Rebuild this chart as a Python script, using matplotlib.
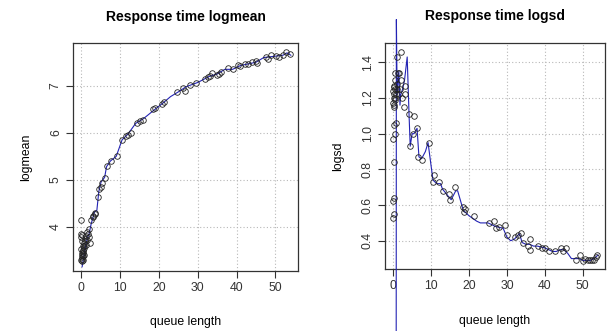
import matplotlib
matplotlib.use("Agg")
import matplotlib.pyplot as plt

# queue length vs response time logmean (points)
lm_x = [0.0, 0.0, 0.0, 0.0, 0.0, 0.1, 0.1, 0.1, 0.1, 0.2, 0.2, 0.2, 0.3, 0.3, 0.3,
        0.4, 0.5, 0.5, 0.6, 0.7, 0.7, 0.8, 0.9, 1.0, 1.1, 1.2, 1.4, 1.5, 1.7, 1.9,
        2.0, 2.2, 2.6, 2.9, 3.1, 3.4, 3.6,
        4.2, 4.5, 5.0, 5.2, 6.2, 6.5, 7.7, 9.1, 10.5, 11.5, 12.0, 12.8, 14.3, 15.2,
        16.0, 18.6, 18.9, 20.8, 21.3, 24.6, 26.3, 26.8, 28.0, 29.5, 31.8, 32.6, 33.2,
        33.6, 35.0, 35.6, 36.1, 37.8, 39.2, 40.4, 40.8, 42.2, 43.0, 44.1, 44.9, 45.2,
        47.5, 48.2, 49.0, 50.2, 51.0, 52.0, 52.8, 53.7]
lm_y = [4.14, 3.85, 3.78, 3.52, 3.30, 3.82, 3.45, 3.35, 3.28, 3.70, 3.40, 3.32, 3.60, 3.48, 3.38,
        3.50, 3.45, 3.30, 3.55, 3.40, 3.60, 3.65, 3.70, 3.75, 3.62, 3.80, 3.72, 3.90, 3.85, 3.78,
        3.95, 3.65, 4.15, 4.20, 4.22, 4.28, 4.30,
        4.64, 4.80, 4.85, 4.94, 5.03, 5.30, 5.40, 5.51, 5.84, 5.93, 5.96, 6.00, 6.20, 6.25,
        6.28, 6.50, 6.52, 6.62, 6.65, 6.87, 6.95, 6.88, 7.02, 7.05, 7.15, 7.18, 7.20,
        7.28, 7.22, 7.25, 7.30, 7.37, 7.35, 7.45, 7.42, 7.47, 7.47, 7.50, 7.52, 7.48,
        7.62, 7.58, 7.65, 7.63, 7.62, 7.65, 7.72, 7.67]

# smoothed logmean curve
lm_fit_x = [0.2, 1.0, 1.5, 2.0, 2.5, 3.4, 4.0, 4.5, 5.1, 6.0, 6.5, 7.5, 9.0, 10.5, 12.0,
            14.0, 16.0, 19.0, 21.0, 23.0, 25.0, 27.0, 30.0, 33.0, 35.0, 37.0, 39.0,
            41.0, 45.0, 47.0, 50.0, 52.0, 53.0, 54.0]
lm_fit_y = [3.15, 3.55, 3.75, 3.85, 4.05, 4.32, 4.35, 4.75, 4.96, 5.05, 5.28, 5.40, 5.50,
            5.85, 5.97, 6.20, 6.30, 6.50, 6.63, 6.77, 6.87, 6.98, 7.07, 7.20, 7.25, 7.35,
            7.35, 7.43, 7.50, 7.60, 7.63, 7.65, 7.70, 7.65]

# queue length vs response time logsd (points)
ls_x = [0.0, 0.0, 0.0, 0.0, 0.0, 0.1, 0.1, 0.1, 0.1, 0.2, 0.2, 0.2, 0.3, 0.3, 0.3,
        0.4, 0.4, 0.5, 0.5, 0.6, 0.6, 0.7, 0.8, 0.9, 1.0, 1.1, 1.3, 1.5, 1.6, 1.8,
        2.0, 2.2, 2.4, 2.8, 3.0, 3.2,
        4.1, 4.4, 5.3, 5.5, 6.3, 6.6, 7.6, 9.4, 10.4, 10.7, 12.0, 13.2, 14.6, 15.1,
        16.4, 18.6, 18.9, 18.5, 21.2, 25.2, 26.5, 27.2, 28.0, 29.6, 29.9, 32.1, 33.0,
        33.8, 34.3, 35.5, 36.0, 36.2, 38.3, 39.2, 40.0, 41.1, 42.7, 44.2, 44.9, 45.6,
        48.1, 49.3, 50.0, 50.6, 51.3, 51.9, 52.4, 53.0, 53.5, 53.8]
ls_y = [0.53, 0.62, 0.97, 1.17, 1.24, 0.55, 1.05, 1.20, 1.26, 0.64, 1.15, 1.22, 0.84, 1.16, 1.27,
        1.19, 1.25, 1.00, 1.30, 1.20, 1.34, 1.22, 1.06, 1.43, 1.25, 1.28, 1.34, 1.34, 1.22, 1.25,
        1.30, 1.46, 1.20, 1.15, 1.27, 1.22,
        1.11, 0.93, 1.00, 1.10, 1.03, 0.87, 0.85, 0.95, 0.73, 0.77, 0.73, 0.68, 0.66, 0.63,
        0.70, 0.56, 0.58, 0.59, 0.54, 0.50, 0.51, 0.47, 0.475, 0.49, 0.43, 0.42, 0.43,
        0.445, 0.385, 0.37, 0.41, 0.35, 0.37, 0.36, 0.36, 0.34, 0.34, 0.36, 0.34, 0.36,
        0.29, 0.32, 0.285, 0.30, 0.29, 0.29, 0.29, 0.29, 0.31, 0.32]

# smoothed logsd curve (spikes out of the box near zero)
ls_fit_x = [0.78, 0.85, 1.05, 1.5, 1.8, 2.0, 2.5, 3.0, 3.7, 4.2, 4.5, 5.0, 5.5, 6.3, 6.8,
            7.5, 8.5, 9.2, 10.0, 10.5, 11.5, 12.5, 13.0, 14.5, 15.3, 16.5, 17.0, 18.5,
            20.0, 22.0, 23.0, 25.0, 27.0, 29.0, 30.0, 31.0, 32.0, 33.3, 34.0, 35.0, 36.0,
            37.0, 38.0, 40.0, 42.0, 43.0, 44.0, 45.0, 46.0, 47.0, 49.0, 50.0, 52.0, 53.0, 54.0]
ls_fit_y = [-1.0, 1.64, 1.22, 1.35, 1.16, 1.22, 1.25, 1.30, 1.43, 1.10, 0.93, 1.00, 1.00,
            1.03, 0.87, 0.86, 0.90, 0.95, 0.82, 0.74, 0.72, 0.72, 0.69, 0.65, 0.63, 0.68,
            0.68, 0.57, 0.54, 0.51, 0.50, 0.50, 0.48, 0.47, 0.42, 0.40, 0.41, 0.44, 0.39,
            0.38, 0.38, 0.37, 0.37, 0.36, 0.34, 0.34, 0.35, 0.35, 0.33, 0.30, 0.30, 0.29,
            0.29, 0.30, 0.32]

xticks = [0, 10, 20, 30, 40, 50]
lm_yticks = [4, 5, 6, 7]
ls_yticks = [0.4, 0.6, 0.8, 1.0, 1.2, 1.4]
ls_yticklabels = ["0.4", "0.6", "0.8", "1.0", "1.2", "1.4"]

plt.rcParams["font.family"] = ["Liberation Sans", "DejaVu Sans"]

W, H = 614, 331
fig = plt.figure(figsize=(W / 100, H / 100), dpi=100)

def panel(rect, px, py, fx, fy, clip, yticks, ylabels, ylim, title, ylabel):
    ax = fig.add_axes(rect)
    ax.grid(True, color="#b8b8b8", linestyle=(0, (1, 2)), linewidth=0.8)
    ax.set_axisbelow(True)
    ax.plot(fx, fy, color="#2323b4", linewidth=0.8, clip_on=clip, zorder=3)
    ax.plot(px, py, linestyle="none", marker="o", markersize=4, markerfacecolor="none",
            markeredgecolor="#222222", markeredgewidth=0.6, zorder=4)
    ax.set_xlim(-2.15, 55.85)
    ax.set_ylim(*ylim)
    ax.set_xticks(xticks)
    ax.set_yticks(yticks)
    ax.set_yticklabels(ylabels, rotation=90, va="center")
    ax.tick_params(direction="out", length=5, width=0.8, colors="#333333",
                   labelsize=8.8, pad=3)
    for s in ax.spines.values():
        s.set_color("#333333")
        s.set_linewidth(0.9)
    ax.set_title(title, fontsize=10, fontweight="bold", pad=16)
    ax.set_xlabel("queue length", fontsize=8.8, labelpad=16)
    ax.set_ylabel(ylabel, fontsize=8.8, labelpad=13)
    return ax

panel([73 / W, (H - 271) / H, 225 / W, 228 / H], lm_x, lm_y, lm_fit_x, lm_fit_y, True,
      lm_yticks, [str(v) for v in lm_yticks], (3.06, 7.91),
      "Response time logmean", "logmean")
panel([385 / W, (H - 269.3) / H, 220 / W, 226.6 / H], ls_x, ls_y, ls_fit_x, ls_fit_y, False,
      ls_yticks, ls_yticklabels, (0.240, 1.510),
      "Response time logsd", "logsd")

fig.savefig("out.png", dpi=100)
